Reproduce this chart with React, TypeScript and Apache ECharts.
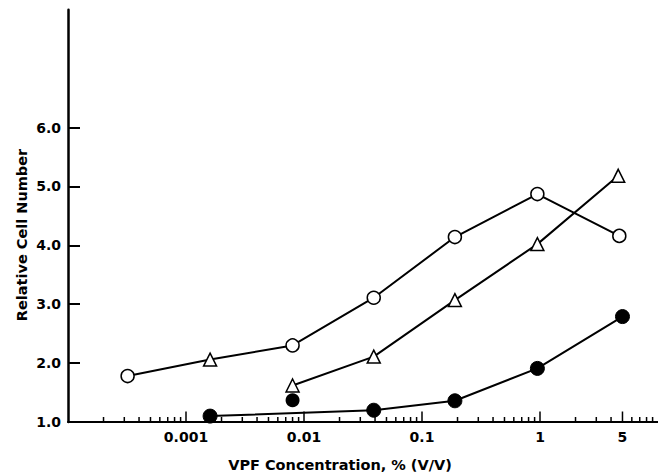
import React, { useEffect, useRef } from "react";
import * as echarts from "echarts";

// ---- data ----
const openCircleX = [0.00032, 0.0016, 0.008, 0.039, 0.19, 0.95, 4.7];
const openCircleY = [1.78, 2.06, 2.3, 3.11, 4.14, 4.87, 4.16];
const openCircleTriangleIndex = 1; // the 2nd point of this curve is drawn as a triangle

const triangleX = [0.008, 0.039, 0.19, 0.95, 4.6];
const triangleY = [1.62, 2.11, 3.07, 4.02, 5.18];

const filledX = [0.0016, 0.039, 0.19, 0.95, 5.0];
const filledY = [1.1, 1.2, 1.36, 1.91, 2.79];

const filledLoneX = [0.008];
const filledLoneY = [1.37];

// ---- axes ----
const xMin = 0.0001;
const xMax = 10;
const yMin = 1;
const yMax = 8;
const yTickValues = [1, 2, 3, 4, 5, 6];
const xLabelValues = [0.001, 0.01, 0.1, 1, 5];
const xLabelTexts = ["0.001", "0.01", "0.1", "1", "5"];
const xMajorTickValues = [0.001, 0.01, 0.1, 1, 5];
const decadeStarts = [0.0001, 0.001, 0.01, 0.1, 1];
const minorMultipliers = [2, 3, 4, 6, 7, 8, 9];
const xMinorTickValues: number[] = [];
decadeStarts.forEach((d) => minorMultipliers.forEach((m) => xMinorTickValues.push(+(d * m).toPrecision(3))));
// 5 * decade for the smaller decades is a plain minor tick
decadeStarts.slice(0, 4).forEach((d) => xMinorTickValues.push(+(d * 5).toPrecision(3)));

const FONT = "DejaVu Sans";

export default function App() {
  const ref = useRef<HTMLDivElement>(null);
  useEffect(() => {
    if (!ref.current) return;
    const chart = echarts.init(ref.current, undefined, { renderer: "svg" });
    const zip = (xs: number[], ys: number[]) => xs.map((x, i) => [x, ys[i]]);

    const openData: any[] = zip(openCircleX, openCircleY).map((p, i) =>
      i === openCircleTriangleIndex ? { value: p, symbol: "triangle", symbolSize: 13 } : { value: p }
    );

    const tickSeries = (vals: number[], len: number) => ({
      type: "custom",
      silent: true,
      data: vals.map((v) => [v, yMin]),
      renderItem: (_p: any, api: any) => {
        const c = api.coord([api.value(0), yMin]);
        return {
          type: "line",
          shape: { x1: c[0], y1: c[1], x2: c[0], y2: c[1] - len },
          style: { stroke: "#000", lineWidth: 1.5 },
        };
      },
      z: 1,
    });

    chart.setOption({
      animation: false,
      backgroundColor: "#fff",
      grid: { left: 68, right: 0, top: 9.7, bottom: 52, containLabel: false },
      xAxis: {
        type: "log",
        logBase: 10,
        min: xMin,
        max: xMax,
        axisLine: { show: true, lineStyle: { color: "#000", width: 2 } },
        axisTick: { show: false },
        axisLabel: { show: false },
        splitLine: { show: false },
      },
      yAxis: {
        type: "value",
        min: yMin,
        max: yMax,
        interval: 1,
        axisLine: { show: true, lineStyle: { color: "#000", width: 2.5 } },
        axisTick: {
          show: true,
          inside: true,
          length: 12,
          customValues: yTickValues,
          lineStyle: { color: "#000", width: 2 },
        },
        axisLabel: {
          customValues: yTickValues,
          formatter: (v: number) => v.toFixed(1),
          color: "#000",
          fontFamily: FONT,
          fontWeight: "bold",
          fontSize: 14,
          margin: 7,
        },
        splitLine: { show: false },
      },
      graphic: [
        {
          type: "text",
          x: 22,
          y: 235,
          rotation: Math.PI / 2,
          style: {
            text: "Relative Cell Number",
            align: "center",
            verticalAlign: "middle",
            fontFamily: FONT,
            fontWeight: "bold",
            fontSize: 14.5,
            fill: "#000",
          },
        },
        {
          type: "text",
          x: 340,
          y: 465,
          style: {
            text: "VPF Concentration, % (V/V)",
            align: "center",
            verticalAlign: "middle",
            fontFamily: FONT,
            fontWeight: "bold",
            fontSize: 14.5,
            fill: "#000",
          },
        },
      ],
      series: [
        tickSeries(xMinorTickValues, 5),
        tickSeries(xMajorTickValues, 10.5),
        {
          type: "custom",
          silent: true,
          data: xLabelValues.map((v) => [v, yMin]),
          renderItem: (p: any, api: any) => {
            const c = api.coord([api.value(0), yMin]);
            return {
              type: "text",
              x: c[0],
              y: c[1] + 15,
              style: {
                text: xLabelTexts[p.dataIndex],
                align: "center",
                verticalAlign: "middle",
                fontFamily: FONT,
                fontWeight: "bold",
                fontSize: 14,
                fill: "#000",
              },
            };
          },
        },
        {
          type: "line",
          data: openData,
          symbol: "circle",
          symbolSize: 13,
          showSymbol: true,
          lineStyle: { color: "#000", width: 2 },
          itemStyle: { color: "#fff", borderColor: "#000", borderWidth: 1.5 },
          z: 3,
        },
        {
          type: "line",
          data: zip(triangleX, triangleY),
          symbol: "triangle",
          symbolSize: 13,
          lineStyle: { color: "#000", width: 2 },
          itemStyle: { color: "#fff", borderColor: "#000", borderWidth: 1.5 },
          z: 3,
        },
        {
          type: "line",
          data: zip(filledX, filledY),
          symbol: "circle",
          symbolSize: 14,
          lineStyle: { color: "#000", width: 2 },
          itemStyle: { color: "#000", borderColor: "#000", borderWidth: 1 },
          z: 3,
        },
        {
          type: "scatter",
          data: zip(filledLoneX, filledLoneY),
          symbol: "circle",
          symbolSize: 14,
          itemStyle: { color: "#000", opacity: 1 },
          z: 3,
        },
      ],
    });
    return () => chart.dispose();
  }, []);
  return <div ref={ref} style={{ position: "fixed", left: 0, top: 0, width: 658, height: 474 }} />;
}
